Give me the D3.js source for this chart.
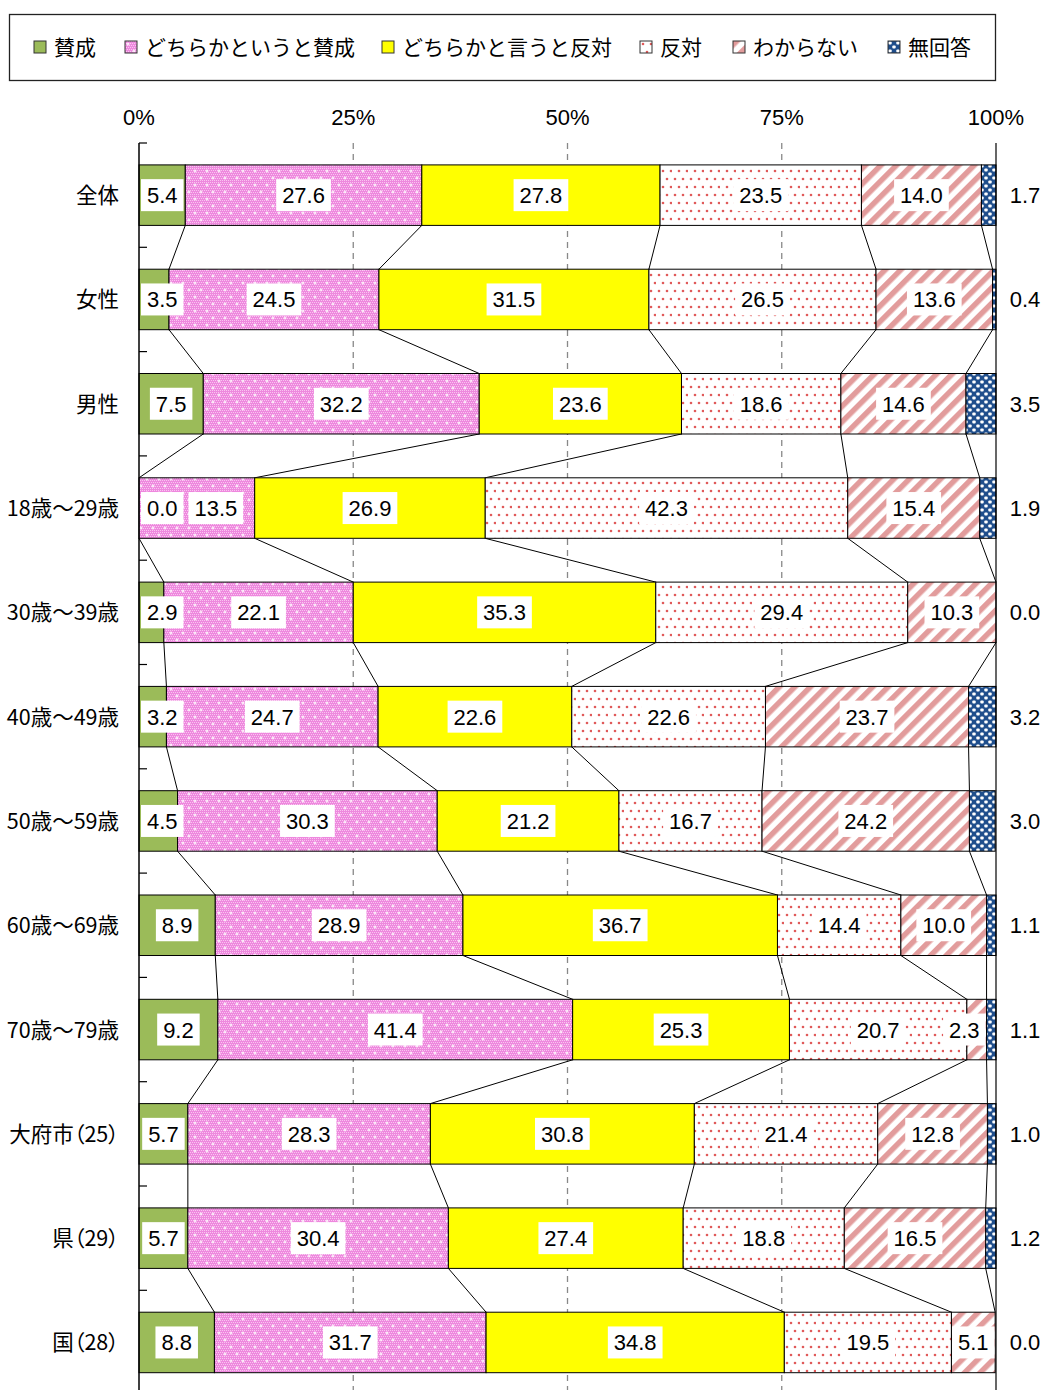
<!DOCTYPE html>
<html lang="ja">
<head>
<meta charset="utf-8">
<script src="https://cdn.jsdelivr.net/npm/d3@7"></script>
<style>
  html, body { margin: 0; padding: 0; background: #fff; }
  svg { display: block; }
  .jp { font-feature-settings: "palt"; }
</style>
</head>
<body>
<svg id="chart" width="1047" height="1390"></svg>
<script>
// Survey categories (rows, top to bottom)
const categories = ["全体", "女性", "男性", "18歳～29歳", "30歳～39歳", "40歳～49歳",
  "50歳～59歳", "60歳～69歳", "70歳～79歳", "大府市（25）", "県（29）", "国（28）"];

// Response options (stack order, left to right)
const seriesNames = ["賛成", "どちらかというと賛成", "どちらかと言うと反対", "反対", "わからない", "無回答"];

// Percentages per response, one value per category
const sansei      = [5.4, 3.5, 7.5, 0.0, 2.9, 3.2, 4.5, 8.9, 9.2, 5.7, 5.7, 8.8];
const yaSansei    = [27.6, 24.5, 32.2, 13.5, 22.1, 24.7, 30.3, 28.9, 41.4, 28.3, 30.4, 31.7];
const yaHantai    = [27.8, 31.5, 23.6, 26.9, 35.3, 22.6, 21.2, 36.7, 25.3, 30.8, 27.4, 34.8];
const hantai      = [23.5, 26.5, 18.6, 42.3, 29.4, 22.6, 16.7, 14.4, 20.7, 21.4, 18.8, 19.5];
const wakaranai   = [14.0, 13.6, 14.6, 15.4, 10.3, 23.7, 24.2, 10.0, 2.3, 12.8, 16.5, 5.1];
const mukaitou    = [1.7, 0.4, 3.5, 1.9, 0.0, 3.2, 3.0, 1.1, 1.1, 1.0, 1.2, 0.0];

// Axis tick values and labels
const tickValues = [0, 25, 50, 75, 100];
const tickLabels = ["0%", "25%", "50%", "75%", "100%"];

const seriesValues = [sansei, yaSansei, yaHantai, hantai, wakaranai, mukaitou];

const rows = categories.map((c, i) => {
  const r = { category: c };
  seriesNames.forEach((s, k) => { r[s] = seriesValues[k][i]; });
  return r;
});

const svg = d3.select("#chart");
const W = 1047, H = 1390;
const plot = { left: 139, right: 996, top: 143, band: 104.3 };
const jpFont = "'Noto Sans CJK JP', 'Noto Sans', sans-serif";
const numFont = "'Liberation Sans', Arial, sans-serif";
const numSize = 22;

// ---- fill patterns ----
const defs = svg.append("defs");

// pink fine dither with white crosses
const pPink = defs.append("pattern").attr("id", "pat-pink").attr("patternUnits", "userSpaceOnUse")
  .attr("width", 12).attr("height", 14);
pPink.append("rect").attr("width", 12).attr("height", 14).attr("fill", "#EE88DE");
for (let yy = 0; yy < 14; yy += 2) {
  for (let xx = (yy / 2) % 2; xx < 12; xx += 2) {
    pPink.append("rect").attr("x", xx).attr("y", yy).attr("width", 1).attr("height", 1).attr("fill", "#F9C6F0");
  }
}
[[3, 3], [9, 10]].forEach(([cx, cy]) => {
  pPink.append("rect").attr("x", cx - 1.5).attr("y", cy - 0.5).attr("width", 3).attr("height", 1).attr("fill", "#fff");
  pPink.append("rect").attr("x", cx - 0.5).attr("y", cy - 1.5).attr("width", 1).attr("height", 3).attr("fill", "#fff");
});

// sparse red dots on white
const pDots = defs.append("pattern").attr("id", "pat-dots").attr("patternUnits", "userSpaceOnUse")
  .attr("width", 16).attr("height", 16);
pDots.append("rect").attr("width", 16).attr("height", 16).attr("fill", "#fff");
[[3, 3], [11, 3], [7, 11], [15, 11]].forEach(([cx, cy]) => {
  pDots.append("circle").attr("cx", cx).attr("cy", cy).attr("r", 1.3).attr("fill", "#E05A5A");
});

// diagonal salmon stripes
const pStripe = defs.append("pattern").attr("id", "pat-stripe").attr("patternUnits", "userSpaceOnUse")
  .attr("width", 11).attr("height", 11).attr("patternTransform", "rotate(45)");
pStripe.append("rect").attr("width", 11).attr("height", 11).attr("fill", "#fff");
pStripe.append("rect").attr("x", 0).attr("width", 5.5).attr("height", 11).attr("fill", "#E29C9C");

// blue with white checker blobs
const pBlue = defs.append("pattern").attr("id", "pat-blue").attr("patternUnits", "userSpaceOnUse")
  .attr("width", 8).attr("height", 8);
pBlue.append("rect").attr("width", 8).attr("height", 8).attr("fill", "#1F4E8C");
[[0.3, 0.5], [4.3, 4.5]].forEach(([x, y]) => {
  pBlue.append("rect").attr("x", x).attr("y", y).attr("width", 3.4).attr("height", 3)
    .attr("rx", 1).attr("fill", "#fff");
});

const fills = ["#9BBB59", "url(#pat-pink)", "#FFFF00", "url(#pat-dots)", "url(#pat-stripe)", "url(#pat-blue)"];

// ---- scales ----
const x = d3.scaleLinear().domain([0, 100]).range([plot.left, plot.right]);
const y = d3.scaleBand().domain(categories)
  .range([plot.top, plot.top + plot.band * categories.length])
  .paddingInner(0.42).paddingOuter(0.21);

const stack = d3.stack().keys(seriesNames);
const stacked = stack(rows);

// ---- gridlines ----
svg.append("g").selectAll("line").data([25, 50, 75]).join("line")
  .attr("x1", d => x(d)).attr("x2", d => x(d))
  .attr("y1", plot.top).attr("y2", H)
  .attr("stroke", "#888").attr("stroke-width", 1.3).attr("stroke-dasharray", "6,5");

// ---- series lines between adjacent bars ----
const lineG = svg.append("g");
for (let k = 0; k < seriesNames.length - 1; k++) {
  for (let i = 0; i < categories.length - 1; i++) {
    const a = stacked[k][i][1], b = stacked[k][i + 1][1];
    lineG.append("line")
      .attr("x1", x(a)).attr("y1", y(categories[i]) + y.bandwidth())
      .attr("x2", x(b)).attr("y2", y(categories[i + 1]))
      .attr("stroke", "#000").attr("stroke-width", 1);
  }
}

// ---- bars ----
const barG = svg.append("g");
stacked.forEach((layer, k) => {
  barG.append("g").selectAll("rect").data(layer).join("rect")
    .attr("x", d => x(d[0]))
    .attr("y", d => y(d.data.category))
    .attr("width", d => Math.max(0, x(d[1]) - x(d[0])))
    .attr("height", y.bandwidth())
    .attr("fill", fills[k])
    .attr("stroke", "#000").attr("stroke-width", 1);
});

// ---- axes ----
const axisG = svg.append("g");
axisG.append("line").attr("x1", plot.left).attr("x2", plot.left)
  .attr("y1", plot.top).attr("y2", H).attr("stroke", "#000").attr("stroke-width", 1.5);
axisG.append("line").attr("x1", plot.right).attr("x2", plot.right)
  .attr("y1", plot.top).attr("y2", H).attr("stroke", "#000").attr("stroke-width", 1.2);
// category tick marks at band edges
d3.range(categories.length + 1).forEach(i => {
  const yy = plot.top + i * plot.band;
  axisG.append("line").attr("x1", plot.left).attr("x2", plot.left + 8)
    .attr("y1", yy).attr("y2", yy).attr("stroke", "#000").attr("stroke-width", 1.2);
});

// value axis labels on top
svg.append("g").selectAll("text").data(tickValues).join("text")
  .attr("x", d => x(d)).attr("y", 125)
  .attr("text-anchor", "middle")
  .attr("font-family", numFont).attr("font-size", numSize).attr("fill", "#000")
  .text((d, i) => tickLabels[i]);

// category labels
svg.append("g").selectAll("text").data(categories).join("text")
  .attr("class", "jp")
  .attr("x", 119).attr("y", d => y(d) + y.bandwidth() / 2 + 8)
  .attr("text-anchor", "end")
  .attr("font-family", jpFont).attr("font-size", 21.5).attr("fill", "#000")
  .text(d => d);

// ---- value labels ----
const labelG = svg.append("g");
const lastK = seriesNames.length - 1;
const textWidth = s => s.split("").reduce((w, ch) => w + (ch === "." ? 6.1 : 12.2), 0);
const prevRight = categories.map(() => -Infinity);
stacked.forEach((layer, k) => {
  layer.forEach((d, i) => {
    const v = seriesValues[k][i];
    const txt = v.toFixed(1);
    const cy = y(d.data.category) + y.bandwidth() / 2;
    if (k === lastK) {
      labelG.append("text").attr("x", 1025).attr("y", cy + 8)
        .attr("text-anchor", "middle").attr("font-family", numFont)
        .attr("font-size", numSize).attr("fill", "#000").text(txt);
      return;
    }
    const hw = textWidth(txt) / 2 + 6;
    let cx = (x(d[0]) + x(d[1])) / 2;
    const maxX = x(100 - seriesValues[lastK][i]) - hw - 1;
    cx = Math.min(cx, maxX);
    cx = Math.max(cx, plot.left + hw + 2, prevRight[i] + hw + 5);
    prevRight[i] = cx + hw;
    labelG.append("rect").attr("x", cx - hw).attr("y", cy - 16)
      .attr("width", hw * 2).attr("height", 32).attr("fill", "#fff");
    labelG.append("text").attr("x", cx).attr("y", cy + 8)
      .attr("text-anchor", "middle").attr("font-family", numFont)
      .attr("font-size", numSize).attr("fill", "#000").text(txt);
  });
});

// ---- legend ----
const leg = svg.append("g");
leg.append("rect").attr("x", 9.5).attr("y", 14.5).attr("width", 986).attr("height", 66)
  .attr("fill", "#fff").attr("stroke", "#222").attr("stroke-width", 1.3);
const legX = [34, 125, 382, 640, 733, 888];
seriesNames.forEach((s, k) => {
  const g = leg.append("g").attr("transform", `translate(${legX[k]},41)`);
  g.append("rect").attr("x", 0).attr("y", 0).attr("width", 12).attr("height", 12)
    .attr("fill", fills[k]).attr("stroke", "#333").attr("stroke-width", 1);
  g.append("text").attr("x", 20).attr("y", 13.5)
    .attr("font-family", jpFont).attr("font-size", 21).attr("fill", "#000")
    .text(s);
});
</script>
</body>
</html>
